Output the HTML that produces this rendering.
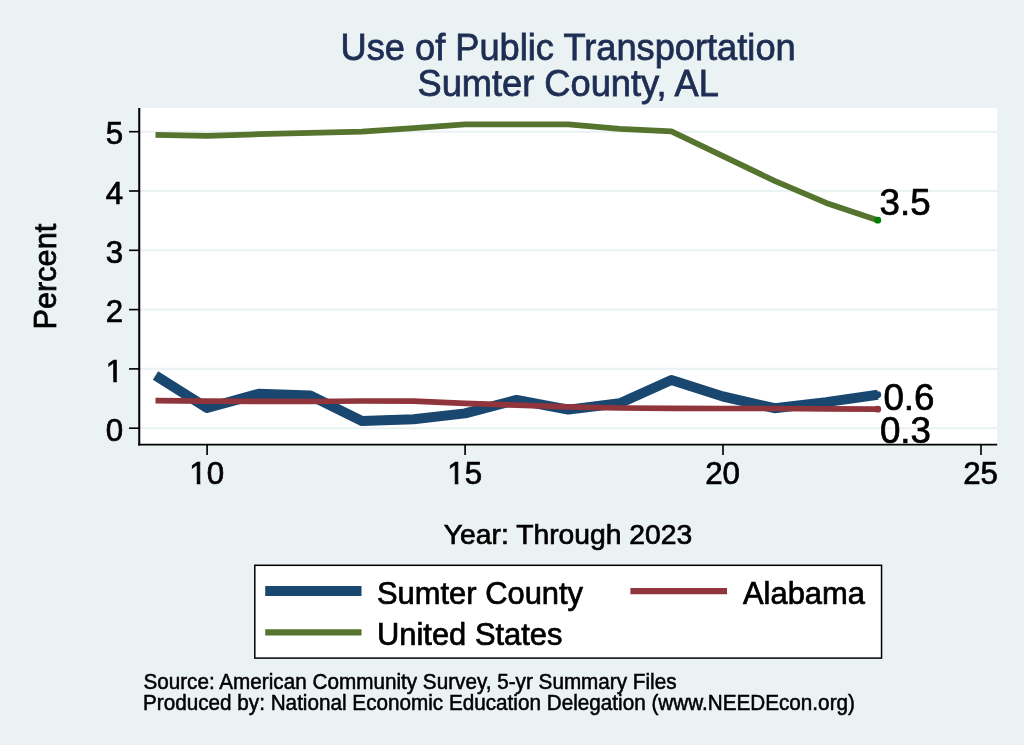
<!DOCTYPE html>
<html lang="en"><head><meta charset="utf-8"><title>Use of Public Transportation - Sumter County, AL</title>
<style>
html,body{margin:0;padding:0;background:#EAF2F3;}
body{width:1024px;height:745px;overflow:hidden;}
svg{display:block;}
text{font-family:"Liberation Sans",Arial,Helvetica,sans-serif;fill:#000;}
</style></head><body>
<svg width="1024" height="745" viewBox="0 0 1024 745">
<rect x="0" y="0" width="1024" height="745" fill="#EAF2F3"/>
<rect x="139.25" y="108.0" width="857.95" height="336.6" fill="#fff"/>
<line x1="139.25" x2="997.2" y1="428.2" y2="428.2" stroke="#EAF2F3" stroke-width="2.1"/>
<line x1="139.25" x2="997.2" y1="368.9" y2="368.9" stroke="#EAF2F3" stroke-width="2.1"/>
<line x1="139.25" x2="997.2" y1="309.6" y2="309.6" stroke="#EAF2F3" stroke-width="2.1"/>
<line x1="139.25" x2="997.2" y1="250.3" y2="250.3" stroke="#EAF2F3" stroke-width="2.1"/>
<line x1="139.25" x2="997.2" y1="191.0" y2="191.0" stroke="#EAF2F3" stroke-width="2.1"/>
<line x1="139.25" x2="997.2" y1="131.7" y2="131.7" stroke="#EAF2F3" stroke-width="2.1"/>
<polyline points="155.5,375.4 207.1,408.0 258.7,393.8 310.3,395.6 361.9,420.9 413.5,419.2 465.1,413.4 516.6,399.9 568.2,409.6 619.8,403.3 671.4,380.0 723.0,396.5 774.6,408.2 826.2,402.1 877.8,394.7" fill="none" stroke="#1A476F" stroke-width="10" stroke-linejoin="round" stroke-linecap="butt"/>
<polyline points="155.5,400.6 207.1,401.2 258.7,401.3 310.3,401.5 361.9,401.0 413.5,401.2 465.1,403.3 516.6,405.1 568.2,406.9 619.8,408.0 671.4,408.4 723.0,408.5 774.6,408.5 826.2,408.9 877.8,409.2" fill="none" stroke="#90353B" stroke-width="5.7" stroke-linejoin="round"/>
<polyline points="155.5,134.8 207.1,135.8 258.7,134.2 310.3,132.8 361.9,131.6 413.5,128.1 465.1,124.3 516.6,124.3 568.2,124.3 619.8,128.9 671.4,131.4 723.0,156.1 774.6,180.9 826.2,202.9 877.8,220.2" fill="none" stroke="#55752F" stroke-width="5.8" stroke-linejoin="round"/>
<circle cx="877.8" cy="394.7" r="3.4" fill="#1A476F"/>
<circle cx="877.8" cy="409.2" r="3.4" fill="#90353B"/>
<circle cx="877.8" cy="220.2" r="3.4" fill="#008000"/>
<line x1="139.25" x2="139.25" y1="108.0" y2="445.45000000000005" stroke="#000" stroke-width="2.05"/>
<line x1="138.25" x2="997.2" y1="444.6" y2="444.6" stroke="#000" stroke-width="1.7"/>
<line x1="129.05" x2="139.25" y1="428.2" y2="428.2" stroke="#000" stroke-width="1.65"/>
<text id="yl0" transform="translate(123.2,440.9) scale(1,1.01)" font-size="31.3" text-anchor="end" style="fill:#000;stroke:#000;stroke-width:0.7px">0</text>
<line x1="129.05" x2="139.25" y1="368.9" y2="368.9" stroke="#000" stroke-width="1.65"/>
<text id="yl1" transform="translate(123.2,381.6) scale(1,1.01)" font-size="31.3" text-anchor="end" style="fill:#000;stroke:#000;stroke-width:0.7px">1</text>
<line x1="129.05" x2="139.25" y1="309.6" y2="309.6" stroke="#000" stroke-width="1.65"/>
<text id="yl2" transform="translate(123.2,322.3) scale(1,1.01)" font-size="31.3" text-anchor="end" style="fill:#000;stroke:#000;stroke-width:0.7px">2</text>
<line x1="129.05" x2="139.25" y1="250.3" y2="250.3" stroke="#000" stroke-width="1.65"/>
<text id="yl3" transform="translate(123.2,263.0) scale(1,1.01)" font-size="31.3" text-anchor="end" style="fill:#000;stroke:#000;stroke-width:0.7px">3</text>
<line x1="129.05" x2="139.25" y1="191.0" y2="191.0" stroke="#000" stroke-width="1.65"/>
<text id="yl4" transform="translate(123.2,203.7) scale(1,1.01)" font-size="31.3" text-anchor="end" style="fill:#000;stroke:#000;stroke-width:0.7px">4</text>
<line x1="129.05" x2="139.25" y1="131.7" y2="131.7" stroke="#000" stroke-width="1.65"/>
<text id="yl5" transform="translate(123.2,144.4) scale(1,1.01)" font-size="31.3" text-anchor="end" style="fill:#000;stroke:#000;stroke-width:0.7px">5</text>
<line x1="207.1" x2="207.1" y1="444.6" y2="455.1" stroke="#000" stroke-width="1.65"/>
<text id="xl10" transform="translate(206.7,484.2) scale(1,1.01)" font-size="31.3" text-anchor="middle" style="fill:#000;stroke:#000;stroke-width:0.7px">10</text>
<line x1="465.1" x2="465.1" y1="444.6" y2="455.1" stroke="#000" stroke-width="1.65"/>
<text id="xl15" transform="translate(464.7,484.2) scale(1,1.01)" font-size="31.3" text-anchor="middle" style="fill:#000;stroke:#000;stroke-width:0.7px">15</text>
<line x1="723.0" x2="723.0" y1="444.6" y2="455.1" stroke="#000" stroke-width="1.65"/>
<text id="xl20" transform="translate(722.6,484.2) scale(1,1.01)" font-size="31.3" text-anchor="middle" style="fill:#000;stroke:#000;stroke-width:0.7px">20</text>
<line x1="981.0" x2="981.0" y1="444.6" y2="455.1" stroke="#000" stroke-width="1.65"/>
<text id="xl25" transform="translate(980.6,484.2) scale(1,1.01)" font-size="31.3" text-anchor="middle" style="fill:#000;stroke:#000;stroke-width:0.7px">25</text>
<rect x="106.78" y="378.34" width="6.49" height="4.96" fill="#EAF2F3"/><rect x="116.83" y="378.34" width="6.24" height="4.96" fill="#EAF2F3"/>
<rect x="190.28" y="480.94" width="6.49" height="4.96" fill="#EAF2F3"/><rect x="200.33" y="480.94" width="6.24" height="4.96" fill="#EAF2F3"/>
<rect x="448.28" y="480.94" width="6.49" height="4.96" fill="#EAF2F3"/><rect x="458.33" y="480.94" width="6.24" height="4.96" fill="#EAF2F3"/>
<text id="m35" transform="translate(879.6,215.4) scale(1,1.025)" font-size="36.8" style="fill:#000;stroke:#000;stroke-width:0.7px">3.5</text>
<text id="m06" transform="translate(883.4,410.2) scale(1,1.025)" font-size="36.8" style="fill:#000;stroke:#000;stroke-width:0.7px">0.6</text>
<text id="m03" transform="translate(879.9,443.2) scale(1,1.025)" font-size="36.8" style="fill:#000;stroke:#000;stroke-width:0.7px">0.3</text>
<text id="t1" transform="translate(568.1,59.9) scale(1,1.04)" font-size="36.25" text-anchor="middle" style="fill:#1E2D53;stroke:#1E2D53;stroke-width:0.75px">Use of Public Transportation</text>
<text id="t2" transform="translate(568.2,95.7) scale(1,1.04)" font-size="36.25" text-anchor="middle" style="fill:#1E2D53;stroke:#1E2D53;stroke-width:0.75px">Sumter County, AL</text>
<text id="xt" transform="translate(568.0,544.1) scale(1,1.01)" font-size="28.27" text-anchor="middle" style="fill:#000;stroke:#000;stroke-width:0.7px">Year: Through 2023</text>
<text id="yt" transform="translate(55.9,276.6) rotate(-90) scale(1,1.04)" font-size="30.7" text-anchor="middle" style="fill:#000;stroke:#000;stroke-width:0.7px">Percent</text>
<rect x="254.8" y="565.3" width="626.75" height="92.8" fill="#fff" stroke="#000" stroke-width="1.5"/>
<line x1="265.2" x2="361.5" y1="591.0" y2="591.0" stroke="#1A476F" stroke-width="9.8"/>
<line x1="265.2" x2="361.5" y1="632.3" y2="632.3" stroke="#55752F" stroke-width="6.2"/>
<line x1="630.4" x2="727.0" y1="591.1" y2="591.1" stroke="#90353B" stroke-width="6.2"/>
<text id="l1" transform="translate(377.0,603.6) scale(1,1.04)" font-size="30.9" style="fill:#000;stroke:#000;stroke-width:0.7px">Sumter County</text>
<text id="l2" transform="translate(377.0,644.5) scale(1,1.04)" font-size="30.9" style="fill:#000;stroke:#000;stroke-width:0.7px">United States</text>
<text id="l3" transform="translate(743.0,603.6) scale(1,1.04)" font-size="30.9" style="fill:#000;stroke:#000;stroke-width:0.7px">Alabama</text>
<text id="n1" transform="translate(143.4,688.9) scale(1,1.04)" font-size="20.7" style="fill:#000;stroke:#000;stroke-width:0.5px">Source: American Community Survey, 5-yr Summary Files</text>
<text id="n2" transform="translate(143.0,709.5) scale(1,1.04)" font-size="20.7" style="fill:#000;stroke:#000;stroke-width:0.5px">Produced by: National Economic Education Delegation (www.NEEDEcon.org)</text>
</svg>
</body></html>
